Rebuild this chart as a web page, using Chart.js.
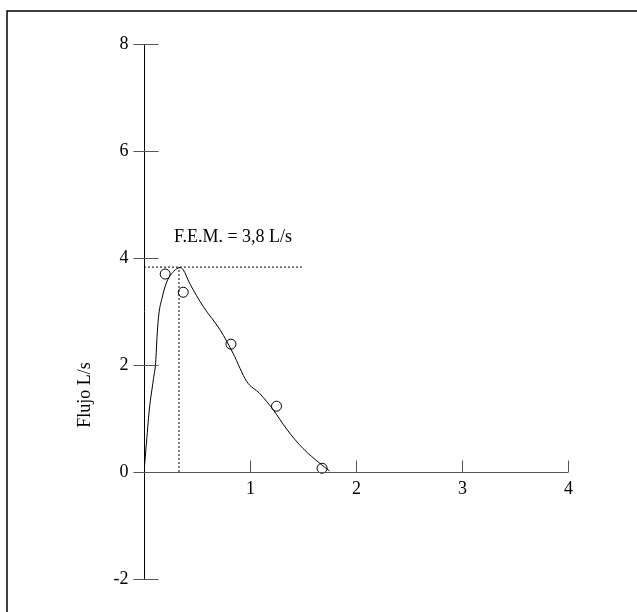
<!DOCTYPE html>
<html>
<head>
<meta charset="utf-8">
<script src="https://cdn.jsdelivr.net/npm/chart.js@4"></script>
<style>
  html, body { margin: 0; padding: 0; background: #fff; }
  #wrap { width: 637px; height: 612px; }
</style>
</head>
<body>
<div id="wrap"><canvas id="flujoChart" width="637" height="612"></canvas></div>
<script>
// curva flujo-volumen
var curvaX = [0, 0.02, 0.05, 0.09, 0.11, 0.125, 0.14, 0.17, 0.21, 0.28, 0.34, 0.37, 0.43, 0.56, 0.72, 0.84, 0.97, 1.09, 1.22, 1.35, 1.50, 1.66, 1.75];
var curvaY = [0, 0.47, 1.16, 1.75, 2.05, 2.6, 2.95, 3.25, 3.53, 3.75, 3.82, 3.78, 3.53, 3.09, 2.65, 2.22, 1.69, 1.47, 1.16, 0.79, 0.44, 0.16, 0.02];

// puntos medidos
var puntosX = [0.20, 0.37, 0.82, 1.25, 1.68];
var puntosY = [3.70, 3.36, 2.39, 1.23, 0.07];

// flujo espiratorio máximo
var femX = 0.33;
var femY = 3.83;
var femFinX = 1.49;
var femTexto = 'F.E.M. = 3,8 L/s';

var xTicks = [1, 2, 3, 4];
var yTicks = [-2, 0, 2, 4, 6, 8];
var tituloY = 'Flujo L/s';

function pares(xs, ys) {
    return xs.map(function (x, i) { return { x: x, y: ys[i] }; });
}

var fuente = '18px "Liberation Serif", "Times New Roman", serif';

// ejes, marcas y textos dibujados con las escalas del gráfico
var ejesPlugin = {
    id: 'ejes',
    afterDraw: function (chart) {
        var ctx = chart.ctx;
        var sx = chart.scales.x;
        var sy = chart.scales.y;
        var x0 = Math.round(sx.getPixelForValue(0)) + 0.5;
        var y0 = Math.round(sy.getPixelForValue(0)) + 0.5;
        ctx.save();

        // marco
        ctx.strokeStyle = '#000';
        ctx.lineWidth = 1.5;
        ctx.beginPath();
        ctx.moveTo(7, 612);
        ctx.lineTo(7, 11);
        ctx.lineTo(637, 11);
        ctx.stroke();

        // eje y
        ctx.lineWidth = 1;
        ctx.strokeStyle = '#000';
        ctx.beginPath();
        ctx.moveTo(x0, sy.getPixelForValue(8));
        ctx.lineTo(x0, sy.getPixelForValue(-2));
        ctx.stroke();

        ctx.strokeStyle = '#555';
        ctx.font = fuente;
        ctx.fillStyle = '#000';
        ctx.textAlign = 'right';
        ctx.textBaseline = 'middle';
        yTicks.forEach(function (v) {
            var py = Math.round(sy.getPixelForValue(v)) + 0.5;
            ctx.beginPath();
            ctx.moveTo(x0 - 11, py);
            ctx.lineTo(x0 + 14, py);
            ctx.stroke();
            ctx.fillText(String(v), x0 - 16, py);
        });

        // eje x
        ctx.strokeStyle = '#555';
        ctx.beginPath();
        ctx.moveTo(x0, y0);
        ctx.lineTo(sx.getPixelForValue(4), y0);
        ctx.stroke();
        ctx.textAlign = 'center';
        xTicks.forEach(function (v) {
            var px = Math.round(sx.getPixelForValue(v)) + 0.5;
            ctx.beginPath();
            ctx.moveTo(px, y0);
            ctx.lineTo(px, y0 - 12);
            ctx.stroke();
            ctx.fillText(String(v), px, y0 + 17);
        });

        // texto F.E.M.
        ctx.fillText(femTexto, 233, 237);

        // título eje y
        ctx.translate(85, 395);
        ctx.rotate(-Math.PI / 2);
        ctx.fillText(tituloY, 0, 0);
        ctx.restore();
    }
};

var ctxFlujo = document.getElementById('flujoChart').getContext('2d');
var flujoChart = new Chart(ctxFlujo, {
    type: 'scatter',
    data: {
        datasets: [{
            label: 'FEM horizontal',
            data: [{ x: 0, y: femY }, { x: femFinX, y: femY }],
            showLine: true,
            borderColor: '#000',
            borderWidth: 1,
            borderDash: [2, 2],
            pointRadius: 0
        }, {
            label: 'FEM vertical',
            data: [{ x: femX, y: 0 }, { x: femX, y: femY }],
            showLine: true,
            borderColor: '#000',
            borderWidth: 1,
            borderDash: [2, 2],
            pointRadius: 0
        }, {
            label: 'Curva',
            data: pares(curvaX, curvaY),
            showLine: true,
            borderColor: '#000',
            borderWidth: 1,
            cubicInterpolationMode: 'monotone',
            pointRadius: 0
        }, {
            label: 'Puntos',
            data: pares(puntosX, puntosY),
            showLine: false,
            pointRadius: 5,
            pointBackgroundColor: '#fff',
            pointBorderColor: '#000',
            pointBorderWidth: 1
        }]
    },
    options: {
        responsive: false,
        animation: false,
        layout: { padding: { left: 144, right: 69, top: 44, bottom: 33 } },
        plugins: {
            legend: { display: false },
            tooltip: { enabled: false }
        },
        scales: {
            x: { type: 'linear', min: 0, max: 4, display: false },
            y: { type: 'linear', min: -2, max: 8, display: false }
        }
    },
    plugins: [ejesPlugin]
});
</script>
</body>
</html>
